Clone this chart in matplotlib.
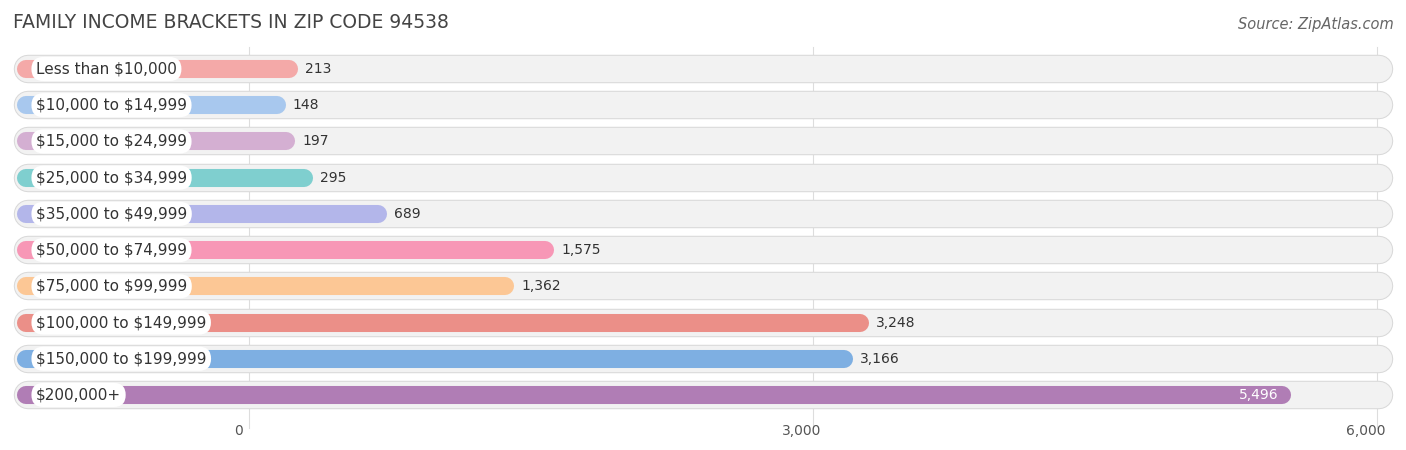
import matplotlib
matplotlib.use("Agg")
import matplotlib.pyplot as plt
plt.rcParams["text.parse_math"] = False

categories = ["Less than $10,000", "$10,000 to $14,999", "$15,000 to $24,999", "$25,000 to $34,999",
              "$35,000 to $49,999", "$50,000 to $74,999", "$75,000 to $99,999", "$100,000 to $149,999",
              "$150,000 to $199,999", "$200,000+"]
values = [213, 148, 197, 295, 689, 1575, 1362, 3248, 3166, 5496]
colors = ["#f4a9a8", "#a8c8ee", "#d4afd2", "#7fcfcf", "#b3b6ea", "#f797b6", "#fcc795",
          "#eb8f88", "#7eafe2", "#b07db5"]
ticks = [0, 3000, 6000]
tick_labels = ["0", "3,000", "6,000"]

fig = plt.figure(figsize=(14.06, 4.5), dpi=100)
ax = fig.add_axes([0, 0, 1, 1])
ax.set_xlim(-1324, 6154)
ax.set_ylim(10.52, -1.905)
ax.axis("off")

pxu = 1 / 0.188  # data units per pixel
bar_start = -1324 + 26 * pxu
row_start = -1324 + 28 * pxu
row_end = 6154 - 27 * pxu

for t, tl in zip(ticks, tick_labels):
    ax.plot([t, t], [-0.6, 9.9], color="#dddddd", lw=0.8, zorder=0)
    ax.text(t - (60 if t else 55), 10.0, tl, ha="center", va="center", fontsize=10, color="#555555")

for i, (c, v, col) in enumerate(zip(categories, values, colors)):
    ax.plot([row_start, row_end], [i, i], color="#d9d9d9", lw=20.5, solid_capstyle="round", zorder=1)
    ax.plot([row_start, row_end], [i, i], color="#f2f2f2", lw=19, solid_capstyle="round", zorder=1)
    ax.plot([bar_start, v], [i, i], color=col, lw=13, solid_capstyle="round", zorder=2)
    ax.text(-1324 + 36 * pxu, i, c, ha="left", va="center", fontsize=11, color="#333333", zorder=4,
            bbox=dict(boxstyle="round,pad=0.3,rounding_size=0.8", fc="white", ec="none"))
    label = f"{v:,}"
    if i == len(values) - 1:
        ax.text(v - 4 * pxu, i, label, ha="right", va="center", fontsize=10, color="white", zorder=4)
    else:
        ax.text(v + 16 * pxu, i, label, ha="left", va="center", fontsize=10, color="#333333", zorder=4)

fig.text(13 / 1406, 1 - 22 / 450, "FAMILY INCOME BRACKETS IN ZIP CODE 94538", fontsize=13.5,
         color="#444444", va="center", ha="left")
fig.text(1 - 12 / 1406, 1 - 24 / 450, "Source: ZipAtlas.com", fontsize=10.5, color="#666666",
         style="italic", va="center", ha="right")
fig.savefig("out.png", dpi=100)
